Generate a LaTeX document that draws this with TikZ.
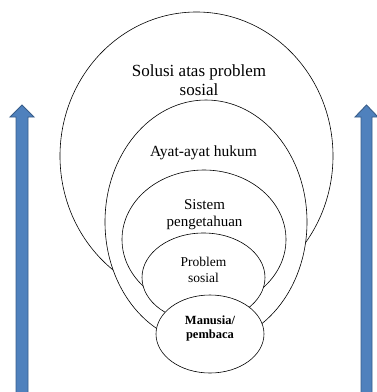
\documentclass[tikz,border=0pt]{standalone}
\usepackage{fontspec}
\setmainfont{Liberation Serif}
\usepackage{xcolor}
\usepackage{tikz}
\usetikzlibrary{shapes.geometric, positioning}

\definecolor{arrowfill}{HTML}{4F81BD}
\definecolor{arrowline}{HTML}{385D8A}

\begin{document}
\begin{tikzpicture}[x=1pt, y=-1pt,
        layer/.style={ellipse, draw, line width=0.6pt, fill=white, inner sep=0pt},
        lbl/.style={align=center, inner sep=0pt},
        uparrow/.style={fill=arrowfill, draw=arrowline, line width=0.9pt}
    ]
    \useasboundingbox (0,0) rectangle (377,392);

    % Nested layers
    \node[layer, minimum width=273pt, minimum height=288pt] (solusi) at (196.5,156) {};
    \node[layer, minimum width=202pt, minimum height=244pt] (ayat) at (206,222) {};
    \node[layer, minimum width=164pt, minimum height=139pt] (sistem) at (204,239.5) {};
    \node[layer, minimum width=123pt, minimum height=89pt] (problem) at (203.5,277.5) {};
    \node[layer, minimum width=108pt, minimum height=78pt] (manusia) at (210,334) {};

    % Labels
    \node[lbl, font=\fontsize{17}{19}\selectfont] (solusiTxt) at (199,80.5) {Solusi atas problem\\sosial};
    \node[lbl, font=\fontsize{15.5}{17}\selectfont] (ayatTxt) at (203.5,153) {Ayat-ayat hukum};
    \node[lbl, font=\fontsize{15}{17}\selectfont] (sistemTxt) at (204.5,214.5) {Sistem\\pengetahuan};
    \node[lbl, font=\fontsize{13.5}{16}\selectfont] (problemTxt) at (203.5,270) {Problem\\sosial};
    \node[lbl, font=\fontsize{12.5}{13.5}\selectfont\bfseries] (manusiaTxt) at (210,328.5) {Manusia/\\pembaca};

    % Side arrows
    \draw[uparrow] (16,393) -- (16,117) -- (10,117) -- (22,105) -- (34,117) -- (28,117) -- (28,393) -- cycle;
    \draw[uparrow] (361,393) -- (361,117) -- (355,117) -- (366.5,105) -- (378,117) -- (372,117) -- (372,393) -- cycle;

\end{tikzpicture}
\end{document}
